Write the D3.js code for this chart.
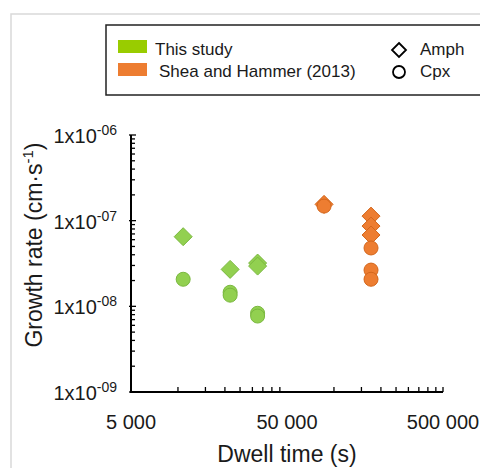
<!DOCTYPE html>
<meta charset="utf-8">
<style>
body {
  margin: 0;
  background: #fff;
}
svg text {
  font-family: "Liberation Sans", Arial, sans-serif;
  fill: #1a1a1a;
}
.axis-line {
  stroke: #000;
  stroke-width: 2;
  fill: none;
}
.tick-line {
  stroke: #000;
  stroke-width: 1.3;
}
</style>
<body>
<svg width="480" height="468"></svg>
<script src="https://cdnjs.cloudflare.com/ajax/libs/d3/7.8.5/d3.min.js"></script>
<script>
// dwell time (s) and growth rate (cm/s)
var thisAmphTime = [10800, 21600, 32400, 32400];
var thisAmphRate = [6.5e-8, 2.7e-8, 3.2e-8, 2.95e-8];
var thisCpxTime = [10800, 21600, 21600, 32400, 32400];
var thisCpxRate = [2.07e-8, 1.46e-8, 1.35e-8, 8.3e-9, 7.7e-9];
var sheaAmphTime = [86400, 172800, 172800, 172800];
var sheaAmphRate = [1.55e-7, 1.13e-7, 8.65e-8, 6.8e-8];
var sheaCpxTime = [86400, 172800, 172800, 172800];
var sheaCpxRate = [1.48e-7, 4.8e-8, 2.65e-8, 2.07e-8];

var xTicks = [5000, 50000, 500000];
var xTickLabels = ["5 000", "50 000", "500 000"];
var yTicks = [1e-9, 1e-8, 1e-7, 1e-6];
var yTickExponents = ["-09", "-08", "-07", "-06"];

var seriesNames = ["This study", "Shea and Hammer (2013)"];
var phaseNames = ["Amph", "Cpx"];

var svg = d3.select("svg"),
    margin = {top: 135, left: 131},
    width = 312,
    height = 257;

// light figure frame
svg.append("rect")
    .attr("x", 11).attr("y", 14)
    .attr("width", 520).attr("height", 520)
    .attr("fill", "none")
    .attr("stroke", "#d9d9d9")
    .attr("stroke-width", 1.5);

var x = d3.scaleLog().domain([5000, 500000]).range([0, width]),
    y = d3.scaleLog().domain([1e-9, 1e-6]).range([height, 0]);

var g = svg.append("g")
    .attr("transform", "translate(" + margin.left + "," + margin.top + ")");

// minor ticks
var xMinor = [];
[5000, 50000].forEach(function(b) {
  for (var k = 2; k <= 9; k++) xMinor.push(b * k);
});
var yMinor = [];
[1e-9, 1e-8, 1e-7].forEach(function(b) {
  for (var k = 2; k <= 9; k++) yMinor.push(b * k);
});

g.selectAll(".xminor")
  .data(xMinor)
  .enter().append("line")
    .attr("class", "tick-line")
    .attr("x1", function(d) { return x(d); })
    .attr("x2", function(d) { return x(d); })
    .attr("y1", height)
    .attr("y2", height - 5);

g.selectAll(".yminor")
  .data(yMinor)
  .enter().append("line")
    .attr("class", "tick-line")
    .attr("x1", 0)
    .attr("x2", 4)
    .attr("y1", function(d) { return y(d); })
    .attr("y2", function(d) { return y(d); });

g.selectAll(".ymajor")
  .data(yTicks)
  .enter().append("line")
    .attr("class", "tick-line")
    .attr("stroke-width", 2)
    .attr("x1", -2)
    .attr("x2", 5)
    .attr("y1", function(d) { return y(d); })
    .attr("y2", function(d) { return y(d); });

// axis lines
g.append("path")
    .attr("class", "axis-line")
    .attr("d", "M0,0V" + height + "H" + width);
g.append("line")
    .attr("class", "tick-line")
    .attr("x1", width).attr("x2", width)
    .attr("y1", height).attr("y2", height - 5);

// tick labels
g.selectAll(".xlabel")
  .data(xTicks)
  .enter().append("text")
    .attr("x", function(d) { return x(d); })
    .attr("y", height + 37)
    .attr("text-anchor", "middle")
    .style("font-size", "20px")
    .text(function(d, i) { return xTickLabels[i]; });

var yl = g.selectAll(".ylabel")
  .data(yTicks)
  .enter().append("text")
    .attr("x", -14)
    .attr("y", function(d) { return y(d) + 8; })
    .attr("text-anchor", "end")
    .style("font-size", "20px");
yl.append("tspan").text("1x10");
yl.append("tspan")
    .attr("dy", -8)
    .style("font-size", "14px")
    .text(function(d, i) { return yTickExponents[i]; });

// axis titles
svg.append("text")
    .attr("x", margin.left + width / 2)
    .attr("y", 462)
    .attr("text-anchor", "middle")
    .style("font-size", "23px")
    .text("Dwell time (s)");

var yt = svg.append("text")
    .attr("transform", "translate(42,245) rotate(-90)")
    .attr("text-anchor", "middle")
    .style("font-size", "23px");
yt.append("tspan").text("Growth rate (cm\u00b7s");
yt.append("tspan").attr("dy", -9).style("font-size", "15px").text("-1");
yt.append("tspan").attr("dy", 9).text(")");

// points
var green = {fill: "#92d050", stroke: "#7ab83f"},
    orange = {fill: "#ed7d31", stroke: "#d4671c"};

function pairs(tx, ry) {
  return tx.map(function(t, i) { return {t: t, r: ry[i]}; });
}

function diamonds(data, c) {
  g.selectAll(null)
    .data(data)
    .enter().append("path")
      .attr("d", "M0,-9L9,0L0,9L-9,0Z")
      .attr("transform", function(d) { return "translate(" + x(d.t) + "," + y(d.r) + ")"; })
      .attr("fill", c.fill)
      .attr("stroke", c.stroke)
      .attr("stroke-width", 1);
}

function circles(data, c) {
  g.selectAll(null)
    .data(data)
    .enter().append("circle")
      .attr("cx", function(d) { return x(d.t); })
      .attr("cy", function(d) { return y(d.r); })
      .attr("r", 7)
      .attr("fill", c.fill)
      .attr("stroke", c.stroke)
      .attr("stroke-width", 1);
}

diamonds(pairs(thisAmphTime, thisAmphRate), green);
circles(pairs(thisCpxTime, thisCpxRate), green);
diamonds(pairs(sheaAmphTime, sheaAmphRate), orange);
circles(pairs(sheaCpxTime, sheaCpxRate), orange);

// legend
var leg = svg.append("g");
leg.append("rect")
    .attr("x", 106).attr("y", 25)
    .attr("width", 420).attr("height", 70)
    .attr("fill", "#fff")
    .attr("stroke", "#222")
    .attr("stroke-width", 1.5);

leg.append("rect")
    .attr("x", 118).attr("y", 40).attr("width", 29).attr("height", 13)
    .attr("fill", "#99cc00");
leg.append("rect")
    .attr("x", 118).attr("y", 63).attr("width", 29).attr("height", 13)
    .attr("fill", "#ed7d31");
leg.append("text")
    .attr("x", 155).attr("y", 55)
    .style("font-size", "17px")
    .text(seriesNames[0]);
leg.append("text")
    .attr("x", 159).attr("y", 77)
    .style("font-size", "17px")
    .text(seriesNames[1]);

leg.append("path")
    .attr("d", "M399,43L406,50L399,57L392,50Z")
    .attr("fill", "#fff")
    .attr("stroke", "#000")
    .attr("stroke-width", 1.8);
leg.append("circle")
    .attr("cx", 399).attr("cy", 72).attr("r", 6)
    .attr("fill", "#fff")
    .attr("stroke", "#000")
    .attr("stroke-width", 1.8);
leg.append("text")
    .attr("x", 420).attr("y", 55)
    .style("font-size", "17px")
    .text(phaseNames[0]);
leg.append("text")
    .attr("x", 420).attr("y", 77)
    .style("font-size", "17px")
    .text(phaseNames[1]);
</script>
</body>
